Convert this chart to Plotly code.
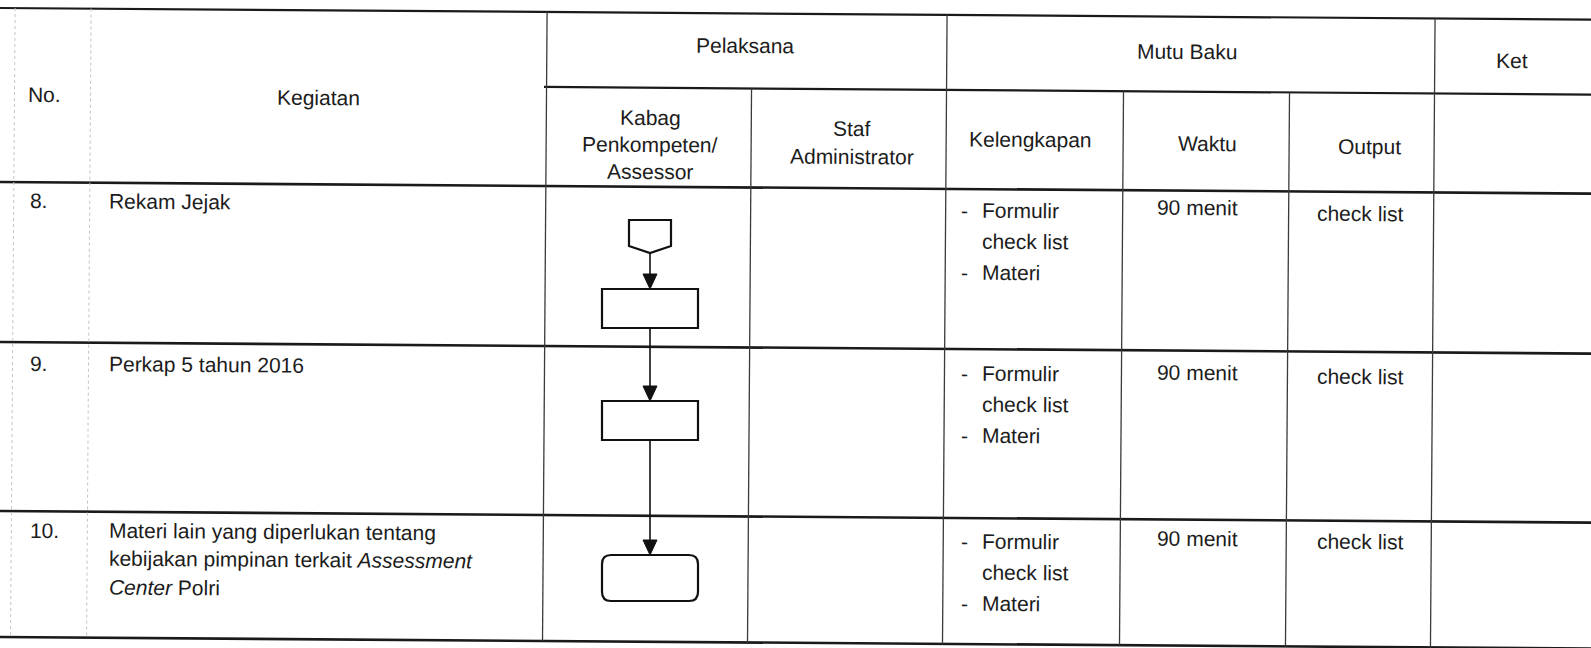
import plotly.graph_objects as go

# ---------------- table content ----------------
head_no = "No."
head_kegiatan = "Kegiatan"
head_pelaksana = "Pelaksana"
head_mutu = "Mutu Baku"
head_ket = "Ket"
head_pelaksana_sub = ["Kabag<br>Penkompeten/<br>Assessor", "Staf<br>Administrator"]
head_mutu_sub = ["Kelengkapan", "Waktu", "Output"]

row_no = ["8.", "9.", "10."]
kegiatan = [
    "Rekam Jejak",
    "Perkap 5 tahun 2016",
    "Materi lain yang diperlukan tentang<br>kebijakan pimpinan terkait <i>Assessment</i><br><i>Center</i> Polri",
]
kelengkapan = [
    [("-", "Formulir"), ("", "check list"), ("-", "Materi")],
    [("-", "Formulir"), ("", "check list"), ("-", "Materi")],
    [("-", "Formulir"), ("", "check list"), ("-", "Materi")],
]
waktu = ["90 menit", "90 menit", "90 menit"]
output = ["check list", "check list", "check list"]
# flowchart symbol drawn in the Kabag column for each step: (symbol, row)
flow_steps = [("offpage", 0), ("process", 0), ("process", 1), ("terminator", 2)]

# ---------------- layout geometry (page pixels) ----------------
W, H = 1591, 648
S = 0.0073  # slight page tilt of the scanned document
FONT = "Liberation Sans Narrow, Arial Narrow, Liberation Sans, Arial, sans-serif"
FS = 21
TXT = "#1c1c1c"

# horizontal rules: y at x=0, x-start, x-end, width
h_rules = [
    (8, 0, W, 2.2),
    (83, 544, W, 2.2),
    (182, 0, W, 2.6),
    (342, 0, W, 2.6),
    (511, 0, W, 2.6),
    (637, 0, W, 2.6),
]
# vertical rules: x at mid page, top rule index, bottom rule index, style
v_rules = [
    (13, 0, 5, "faint"),
    (89, 0, 5, "faint"),
    (545, 0, 5, "solid"),
    (750, 1, 5, "solid"),
    (945, 0, 5, "solid"),
    (1122, 1, 5, "solid"),
    (1288, 1, 5, "solid"),
    (1433, 0, 5, "solid"),
]

fig = go.Figure()
shapes = []
annotations = []


def hy(y0, x):
    return y0 + S * x


def vx(xm, y):
    return xm - S * (y - 300)


for y0, xa, xb, w in h_rules:
    shapes.append(dict(type="line", x0=xa, y0=hy(y0, xa), x1=xb, y1=hy(y0, xb),
                       line=dict(color="#1a1a1a", width=w), layer="above"))

for xm, ti, bi, style in v_rules:
    yt = hy(h_rules[ti][0], xm)
    yb = hy(h_rules[bi][0], xm)
    if style == "faint":
        ln = dict(color="#c9c2c4", width=1, dash="dot")
    else:
        ln = dict(color="#3a3a3a", width=1.3)
    shapes.append(dict(type="line", x0=vx(xm, yt), y0=yt, x1=vx(xm, yb), y1=yb, line=ln))


def text(x, y, s, anchor="center", size=FS, spacing=0):
    lines = s.split("<br>")
    for i, ln in enumerate(lines):
        annotations.append(dict(x=x, y=y + i * spacing, text=ln, showarrow=False,
                                xanchor=anchor, yanchor="middle", textangle=0.42,
                                font=dict(family=FONT, size=size, color=TXT)))


# header texts
text(44, 94, head_no)
text(318, 97, head_kegiatan)
text(745, 45, head_pelaksana)
text(1187, 51, head_mutu)
text(1512, 60, head_ket)
sub_pel_pos = [(650, 117, 27), (852, 128, 28)]
for s, (x, y, sp) in zip(head_pelaksana_sub, sub_pel_pos):
    text(x, y, s, spacing=sp)
sub_mutu_pos = [(1030, 139), (1207, 143), (1369, 146)]
for s, (x, y) in zip(head_mutu_sub, sub_mutu_pos):
    text(x, y, s)

# body rows
row_y = [200, 363, 530]      # first text line of each row (left side)
kel_y = [210, 373, 541]
waktu_y = [207, 372, 538]
out_y = [213, 376, 541]
for i in range(3):
    text(28, row_y[i], row_no[i], anchor="left")
    text(107, row_y[i] + 1, kegiatan[i], anchor="left", spacing=28)
    for j, (dash, item) in enumerate(kelengkapan[i]):
        yy = kel_y[i] + j * 31
        if dash:
            text(959, yy, dash, anchor="left")
        text(980, yy, item, anchor="left")
    text(1197, waktu_y[i], waktu[i])
    text(1360, out_y[i], output[i])

# ---------------- flowchart ----------------
CX = 650
BOX_W = 96
flow_geom = {  # per step: top, bottom
    0: (220, 253),
    1: (289, 328),
    2: (401, 440),
    3: (555, 601),
}
LINE = dict(color="#111111", width=2.2)


def rect_path(x0, y0, x1, y1, r=0):
    if r == 0:
        return f"M{x0},{y0} L{x1},{y0} L{x1},{y1} L{x0},{y1} Z"
    return (f"M{x0 + r},{y0} L{x1 - r},{y0} Q{x1},{y0} {x1},{y0 + r} "
            f"L{x1},{y1 - r} Q{x1},{y1} {x1 - r},{y1} L{x0 + r},{y1} "
            f"Q{x0},{y1} {x0},{y1 - r} L{x0},{y0 + r} Q{x0},{y0} {x0 + r},{y0} Z")


for k, (sym, row) in enumerate(flow_steps):
    top, bot = flow_geom[k]
    if sym == "offpage":
        hw = 21
        side = bot - 7
        p = f"M{CX - hw},{top} L{CX + hw},{top} L{CX + hw},{side} L{CX},{bot} L{CX - hw},{side} Z"
    elif sym == "process":
        p = rect_path(CX - BOX_W / 2, top, CX + BOX_W / 2, bot)
    else:
        p = rect_path(CX - BOX_W / 2, top, CX + BOX_W / 2, bot, r=9)
    shapes.append(dict(type="path", path=p, line=LINE, fillcolor="white", layer="above"))

# connectors with arrowheads between consecutive steps
AH_H, AH_W = 15, 7
for k in range(len(flow_steps) - 1):
    y_from = flow_geom[k][1]
    y_to = flow_geom[k + 1][0]
    shapes.append(dict(type="line", x0=CX, y0=y_from, x1=CX, y1=y_to - AH_H + 1,
                       line=dict(color="#111111", width=1.6), layer="above"))
    shapes.append(dict(type="path",
                       path=f"M{CX - AH_W},{y_to - AH_H} L{CX + AH_W},{y_to - AH_H} L{CX},{y_to} Z",
                       line=dict(color="#111111", width=1), fillcolor="#111111", layer="above"))

fig.update_layout(
    width=W, height=H,
    margin=dict(l=0, r=0, t=0, b=0),
    paper_bgcolor="white", plot_bgcolor="white",
    xaxis=dict(range=[0, W], visible=False, fixedrange=True),
    yaxis=dict(range=[H, 0], visible=False, fixedrange=True),
    shapes=shapes, annotations=annotations, showlegend=False,
)

fig.write_html("out.html", config={"displayModeBar": False},
               post_script="document.body.style.margin='0';document.body.style.overflow='hidden';")
